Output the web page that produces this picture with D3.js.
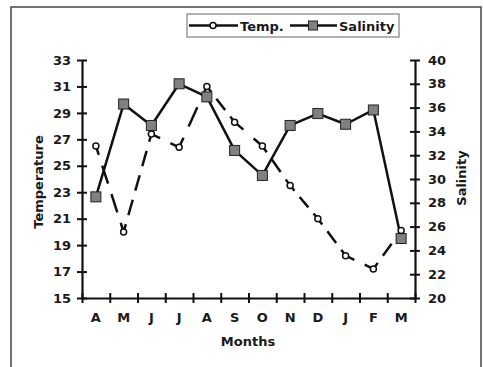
<!DOCTYPE html>
<html>
<head>
<meta charset="utf-8">
<script src="https://cdn.jsdelivr.net/npm/d3@7"></script>
<style>
  html, body { margin: 0; padding: 0; background: #fff; }
  svg text { font-family: "DejaVu Sans", Verdana, sans-serif; font-weight: bold; fill: #1a1a1a; }
</style>
</head>
<body>
<svg id="chart" width="483" height="367"></svg>
<script>
// Monthly series, April through March
const months = ["A", "M", "J", "J", "A", "S", "O", "N", "D", "J", "F", "M"];
const temperature = [26.5, 20.0, 27.4, 26.4, 31.0, 28.3, 26.5, 23.5, 21.0, 18.2, 17.2, 20.1];
const salinity = [28.5, 36.3, 34.5, 38.0, 36.9, 32.4, 30.3, 34.5, 35.5, 34.6, 35.8, 25.0];
const tempTicks = [15, 17, 19, 21, 23, 25, 27, 29, 31, 33];
const salTicks = [20, 22, 24, 26, 28, 30, 32, 34, 36, 38, 40];

const svg = d3.select("#chart");
const plot = { left: 82, right: 415, top: 60, bottom: 298 };

// outer frame
svg.append("rect")
  .attr("x", 11).attr("y", 7).attr("width", 470).attr("height", 400)
  .attr("fill", "none").attr("stroke", "#444").attr("stroke-width", 1.5);

const x = d3.scaleBand().domain(d3.range(months.length)).range([plot.left, plot.right]).padding(0);
const xEdge = d3.scaleLinear().domain([0, months.length]).range([plot.left, plot.right]);
const yT = d3.scaleLinear().domain([15, 33]).range([plot.bottom, plot.top]);
const yS = d3.scaleLinear().domain([20, 40]).range([plot.bottom, plot.top]);

function styleAxis(g) {
  g.selectAll(".domain").attr("stroke", "#111").attr("stroke-width", 2.2);
  g.selectAll(".tick line").attr("stroke", "#111").attr("stroke-width", 2);
  g.selectAll("text").attr("font-size", 13).attr("font-family", "DejaVu Sans, sans-serif")
    .attr("font-weight", "bold").attr("fill", "#1a1a1a");
}

// left (temperature) axis with crossing ticks
const gL = svg.append("g").attr("transform", `translate(${plot.left},0)`);
gL.call(d3.axisLeft(yT).tickValues(tempTicks).tickSizeInner(5).tickSizeOuter(0).tickPadding(6));
gL.append("g").call(d3.axisRight(yT).tickValues(tempTicks).tickSize(5).tickFormat(""))
  .select(".domain").remove();
styleAxis(gL);

// right (salinity) axis with crossing ticks
const gR = svg.append("g").attr("transform", `translate(${plot.right},0)`);
gR.call(d3.axisRight(yS).tickValues(salTicks).tickSizeInner(5).tickSizeOuter(0).tickPadding(8));
gR.append("g").call(d3.axisLeft(yS).tickValues(salTicks).tickSize(5).tickFormat(""))
  .select(".domain").remove();
styleAxis(gR);

// bottom axis: ticks on month boundaries, labels centred in each month
const gB = svg.append("g").attr("transform", `translate(0,${plot.bottom})`);
gB.call(d3.axisBottom(xEdge).tickValues(d3.range(months.length + 1))
  .tickSize(5).tickSizeOuter(0).tickFormat(""));
gB.append("g").call(d3.axisTop(xEdge).tickValues(d3.range(months.length + 1)).tickSize(5).tickFormat(""))
  .select(".domain").remove();
const gBL = svg.append("g").attr("transform", `translate(0,${plot.bottom})`);
gBL.call(d3.axisBottom(x).tickSize(0).tickPadding(15).tickFormat(i => months[i]));
gBL.select(".domain").remove();
styleAxis(gB);
styleAxis(gBL);

// axis titles
svg.append("text").attr("x", 248).attr("y", 346).attr("text-anchor", "middle")
  .attr("font-size", 13).text("Months");
svg.append("text").attr("transform", "translate(38,182) rotate(-90)").attr("dy", "0.36em")
  .attr("text-anchor", "middle").attr("font-size", 13).text("Temperature");
svg.append("text").attr("transform", "translate(461,178) rotate(-90)").attr("dy", "0.36em")
  .attr("text-anchor", "middle").attr("font-size", 13).text("Salinity");

const cx = i => x(i) + x.bandwidth() / 2;

// salinity: solid line with grey square markers
const lineS = d3.line().x((d, i) => cx(i)).y(d => yS(d));
svg.append("path").datum(salinity).attr("d", lineS)
  .attr("fill", "none").attr("stroke", "#111").attr("stroke-width", 2.5).attr("stroke-linejoin", "round");

// temperature: long-dash line; each segment's pattern is stretched so a dash
// runs through the marker at both of its ends
const tempPts = temperature.map((d, i) => [cx(i), yT(d)]);
svg.append("g").selectAll("line").data(d3.pairs(tempPts)).join("line")
  .attr("x1", d => d[0][0]).attr("y1", d => d[0][1])
  .attr("x2", d => d[1][0]).attr("y2", d => d[1][1])
  .each(function (d) {
    const len = Math.hypot(d[1][0] - d[0][0], d[1][1] - d[0][1]);
    const n = Math.max(1, Math.round(len / 27));
    const p = len / n, dash = p * 0.63, gap = p - dash;
    d3.select(this).attr("stroke-dasharray", `${dash},${gap}`).attr("stroke-dashoffset", dash / 2);
  })
  .attr("stroke", "#111").attr("stroke-width", 2.5);

const sq = 10;
svg.append("g").selectAll("rect").data(salinity).join("rect")
  .attr("x", (d, i) => cx(i) - sq / 2).attr("y", d => yS(d) - sq / 2)
  .attr("width", sq).attr("height", sq)
  .attr("fill", "#808080").attr("stroke", "#222").attr("stroke-width", 1);

svg.append("g").selectAll("circle").data(temperature).join("circle")
  .attr("cx", (d, i) => cx(i)).attr("cy", d => yT(d)).attr("r", 3)
  .attr("fill", "#fff").attr("stroke", "#111").attr("stroke-width", 1.5);

// legend
const lg = svg.append("g");
lg.append("rect").attr("x", 187).attr("y", 14).attr("width", 212).attr("height", 23)
  .attr("fill", "#fff").attr("stroke", "#666").attr("stroke-width", 1);
lg.append("line").attr("x1", 189).attr("x2", 238).attr("y1", 25.5).attr("y2", 25.5)
  .attr("stroke", "#111").attr("stroke-width", 2.5);
lg.append("circle").attr("cx", 213).attr("cy", 25.5).attr("r", 3)
  .attr("fill", "#fff").attr("stroke", "#111").attr("stroke-width", 1.5);
lg.append("text").attr("x", 240).attr("y", 30.5).attr("font-size", 13).text("Temp.");
lg.append("line").attr("x1", 290).attr("x2", 337).attr("y1", 25.5).attr("y2", 25.5)
  .attr("stroke", "#111").attr("stroke-width", 2.5);
lg.append("rect").attr("x", 308.5).attr("y", 21).attr("width", 9).attr("height", 9)
  .attr("fill", "#808080").attr("stroke", "#222").attr("stroke-width", 1);
lg.append("text").attr("x", 339).attr("y", 30.5).attr("font-size", 13).text("Salinity");
</script>
</body>
</html>
